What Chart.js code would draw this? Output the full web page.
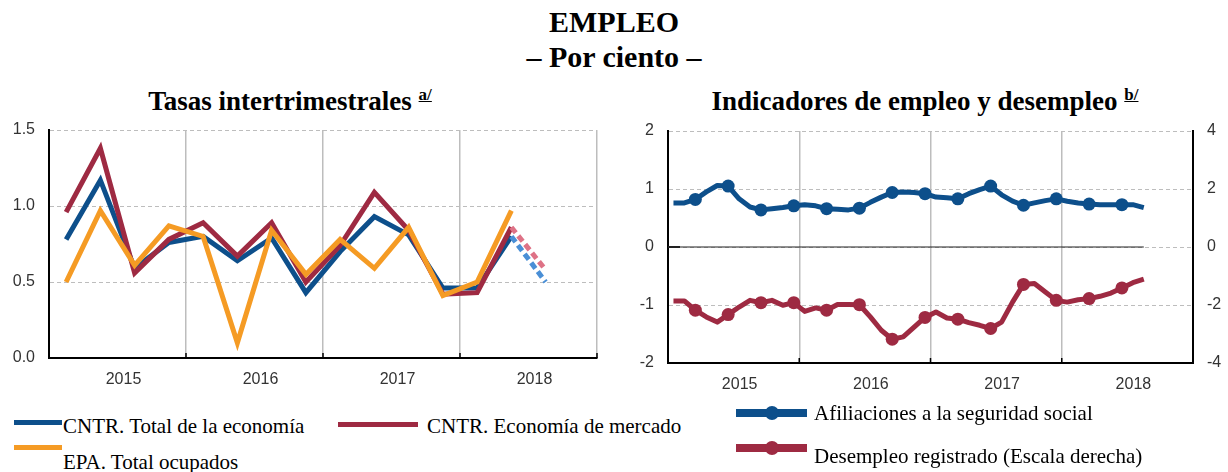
<!DOCTYPE html>
<html><head><meta charset="utf-8">
<script src="https://cdn.jsdelivr.net/npm/chart.js@4.4.1/dist/chart.umd.min.js"></script>
<style>
html,body{margin:0;padding:0;background:#fff;}
#root{position:relative;width:1228px;height:472px;overflow:hidden;font-family:"Liberation Serif","Times New Roman",serif;color:#000;}
.t{position:absolute;white-space:nowrap;font-weight:bold;text-align:center;}
.t sup{font-size:17px;text-decoration:underline;vertical-align:10px;line-height:0;}
.lg{position:absolute;white-space:nowrap;font-size:21px;line-height:24px;}
.bar{position:absolute;}
.dot{position:absolute;border-radius:50%;}
.cv{position:absolute;}
</style></head>
<body><div id="root">
<div class="t" style="left:0;width:1228px;top:4px;font-size:30px;line-height:36px;">EMPLEO</div>
<div class="t" style="left:0;width:1228px;top:39px;font-size:30px;line-height:36px;">– Por ciento –</div>
<div class="t" style="left:40px;width:500px;top:85px;font-size:27px;line-height:32px;">Tasas intertrimestrales <sup>a/</sup></div>
<div class="t" style="left:625px;width:600px;top:85px;font-size:27px;line-height:32px;">Indicadores de empleo y desempleo <sup>b/</sup></div>

<canvas id="c1" class="cv" width="610" height="290" style="left:0;top:115px;"></canvas>
<canvas id="c2" class="cv" width="618" height="290" style="left:610px;top:115px;"></canvas>

<div class="bar" style="left:14px;top:420px;width:48px;height:5px;background:#0d4f8b;"></div>
<div class="lg" style="left:63px;top:414px;">CNTR. Total de la economía</div>
<div class="bar" style="left:338px;top:422px;width:80px;height:5px;background:#9e2a42;"></div>
<div class="lg" style="left:427px;top:414px;">CNTR. Economía de mercado</div>
<div class="bar" style="left:14px;top:445px;width:48px;height:5px;background:#f59b24;"></div>
<div class="lg" style="left:63px;top:450px;">EPA. Total ocupados</div>

<div class="bar" style="left:736px;top:409px;width:71px;height:8px;background:#0d4f8b;"></div>
<div class="dot" style="left:765px;top:406px;width:14px;height:14px;background:#0d4f8b;"></div>
<div class="lg" style="left:814px;top:401px;">Afiliaciones a la seguridad social</div>
<div class="bar" style="left:736px;top:444px;width:71px;height:8px;background:#9e2a42;"></div>
<div class="dot" style="left:765px;top:441px;width:14px;height:14px;background:#9e2a42;"></div>
<div class="lg" style="left:814px;top:444px;">Desempleo registrado (Escala derecha)</div>
</div>
<script>
// ---------- DATA ----------
const firstYear = 2015;
const lastYear = 2018;
const quarterLabels = ['2015-I','2015-II','2015-III','2015-IV','2016-I','2016-II','2016-III','2016-IV',
  '2017-I','2017-II','2017-III','2017-IV','2018-I','2018-II','2018-III'];
const cntrTotal   = [0.78,1.17,0.59,0.76,0.80,0.64,0.79,0.43,0.70,0.93,0.81,0.46,0.46,0.80,0.50];
const cntrMercado = [0.96,1.38,0.56,0.78,0.89,0.67,0.89,0.50,0.74,1.09,0.84,0.42,0.43,0.86,0.58];
const epaOcupados = [0.50,0.97,0.61,0.87,0.80,0.10,0.84,0.55,0.78,0.59,0.86,0.41,0.50,0.97];
const estimateIndex = 14; // last quarter is an estimate (dashed)
const leftTicks = [0, 0.5, 1.0, 1.5];

const monthNames = ['ene','feb','mar','abr','may','jun','jul','ago','sep','oct','nov','dic'];
const afiliaciones = [0.76,0.76,0.82,0.95,1.06,1.05,0.83,0.69,0.64,0.66,0.68,0.71,
  0.73,0.71,0.66,0.65,0.64,0.67,0.77,0.86,0.94,0.95,0.94,0.92,
  0.86,0.85,0.83,0.92,0.99,1.05,0.90,0.79,0.72,0.76,0.80,0.83,
  0.79,0.76,0.74,0.73,0.73,0.73,0.73,0.68];
const desempleo = [-1.86,-1.86,-2.18,-2.41,-2.59,-2.33,-2.07,-1.84,-1.92,-1.84,-2.01,-1.92,
  -2.22,-2.10,-2.18,-1.98,-1.98,-1.99,-2.41,-2.87,-3.18,-3.10,-2.76,-2.43,
  -2.24,-2.45,-2.49,-2.61,-2.70,-2.81,-2.59,-1.90,-1.29,-1.26,-1.55,-1.84,
  -1.90,-1.82,-1.78,-1.70,-1.59,-1.41,-1.23,-1.11];
const monthLabels = afiliaciones.map((_, i) => monthNames[i % 12] + '-' + (firstYear + Math.floor(i / 12)));

// ---------- STYLE ----------
const BLUE = '#0d4f8b', RED = '#9e2a42', ORANGE = '#f59b24';
const BLUE_L = '#4a8fd6', RED_L = '#de7286';
const tickFont = {family: '"Liberation Sans", Arial, sans-serif', size: 16};
const tickColor = '#333';
const GRID = '#bdbdbd';

const qx = i => firstYear + (i + 0.5) / 4;
const mx = i => firstYear + (i + 0.5) / 12;
const pts = (arr, pos) => arr.map((v, i) => ({x: pos(i), y: v}));

const xYearAxis = (h) => ({
  type: 'linear', min: firstYear, max: lastYear + 1,
  ticks: {stepSize: 0.5, autoSkip: false, maxRotation: 0, padding: 12, labelOffset: 6,
    font: tickFont, color: tickColor,
    callback: v => (Math.abs(v % 1 - 0.5) < 1e-6 ? String(Math.floor(v)) : '')},
  grid: {color: c => (c.tick && Number.isInteger(c.tick.value) ? GRID : 'rgba(0,0,0,0)'), lineWidth: 1.5, drawTicks: false},
  border: {color: '#000', width: 2},
  afterFit: s => { s.height = h; s.paddingLeft = 0; s.paddingRight = 0; }
});
const fixV = w => s => { s.width = w; s.paddingTop = 0; s.paddingBottom = 0; };

const seg = (light) => ({
  borderDash: c => (c.p1DataIndex === estimateIndex ? [7, 4] : undefined),
  borderColor: c => (c.p1DataIndex === estimateIndex ? light : undefined)
});

// small inward tick marks at the year boundaries on the bottom axis
const innerTicks = {
  id: 'innerTicks',
  afterDatasetsDraw(chart) {
    const {ctx, chartArea, scales} = chart;
    const x = scales.x;
    ctx.save();
    ctx.strokeStyle = '#000'; ctx.lineWidth = 1.5;
    x.ticks.forEach(t => {
      if (!Number.isInteger(t.value)) return;
      const px = x.getPixelForValue(t.value);
      ctx.beginPath(); ctx.moveTo(px, chartArea.bottom); ctx.lineTo(px, chartArea.bottom - 5); ctx.stroke();
    });
    ctx.restore();
  }
};

new Chart(document.getElementById('c1'), {
  type: 'line',
  data: {
    labels: quarterLabels,
    datasets: [
      {label: 'EPA. Total ocupados', data: pts(epaOcupados, qx), borderColor: ORANGE, borderWidth: 5, pointRadius: 0, order: 0, borderJoinStyle: 'miter'},
      {label: 'CNTR. Economía de mercado', data: pts(cntrMercado, qx), borderColor: RED, borderWidth: 5, pointRadius: 0, order: 1, borderJoinStyle: 'miter', segment: seg(RED_L)},
      {label: 'CNTR. Total de la economía', data: pts(cntrTotal, qx), borderColor: BLUE, borderWidth: 5, pointRadius: 0, order: 2, borderJoinStyle: 'miter', segment: seg(BLUE_L)}
    ]
  },
  options: {
    responsive: false, animation: false,
    layout: {padding: {top: 15, right: 13, left: 0, bottom: 0}},
    plugins: {legend: {display: false}, tooltip: {enabled: false}},
    scales: {
      x: xYearAxis(47),
      y: {min: 0, max: 1.5,
        afterBuildTicks: s => { s.ticks = leftTicks.map(v => ({value: v})); },
        ticks: {padding: 14, font: tickFont, color: tickColor, callback: v => v.toFixed(1)},
        grid: {color: GRID, drawTicks: false},
        border: {color: '#000', width: 2, dash: [4, 3]},
        afterFit: fixV(49)}
    }
  },
  plugins: [innerTicks]
});

const zeroLine = {
  id: 'zeroLine',
  beforeDatasetsDraw(chart) {
    const {ctx, chartArea, scales} = chart;
    const yp = scales.y.getPixelForValue(0);
    const xe = scales.x.getPixelForValue(mx(afiliaciones.length - 1));
    ctx.save();
    ctx.strokeStyle = '#222'; ctx.lineWidth = 1.2;
    ctx.beginPath(); ctx.moveTo(chartArea.left, yp); ctx.lineTo(xe, yp); ctx.stroke();
    ctx.lineWidth = 2;
    ctx.beginPath(); ctx.moveTo(chartArea.left, yp); ctx.lineTo(chartArea.left + 12, yp); ctx.stroke();
    ctx.restore();
  }
};

const markerEvery3 = c => (c.dataIndex % 3 === 2 ? 6.5 : 0);

new Chart(document.getElementById('c2'), {
  type: 'line',
  data: {
    labels: monthLabels,
    datasets: [
      {label: 'Afiliaciones a la seguridad social', data: pts(afiliaciones, mx), yAxisID: 'y',
        borderColor: BLUE, backgroundColor: BLUE, borderWidth: 5, pointRadius: markerEvery3, pointBorderWidth: 0, borderJoinStyle: 'round'},
      {label: 'Desempleo registrado (Escala derecha)', data: pts(desempleo, mx), yAxisID: 'y2',
        borderColor: RED, backgroundColor: RED, borderWidth: 5, pointRadius: markerEvery3, pointBorderWidth: 0, borderJoinStyle: 'round'}
    ]
  },
  options: {
    responsive: false, animation: false,
    layout: {padding: {top: 16, right: 0, left: 0, bottom: 0}},
    plugins: {legend: {display: false}, tooltip: {enabled: false}},
    scales: {
      x: xYearAxis(42),
      y: {position: 'left', min: -2, max: 2,
        ticks: {stepSize: 1, padding: 14, font: tickFont, color: tickColor},
        grid: {color: GRID, drawTicks: false},
        border: {color: '#000', width: 2, dash: [4, 3]},
        afterFit: fixV(58)},
      y2: {position: 'right', min: -4, max: 4,
        ticks: {stepSize: 2, padding: 14, font: tickFont, color: tickColor},
        grid: {drawOnChartArea: false, drawTicks: false},
        border: {color: '#000', width: 2},
        afterFit: fixV(35)}
    }
  },
  plugins: [zeroLine, innerTicks]
});
</script>
</body></html>
